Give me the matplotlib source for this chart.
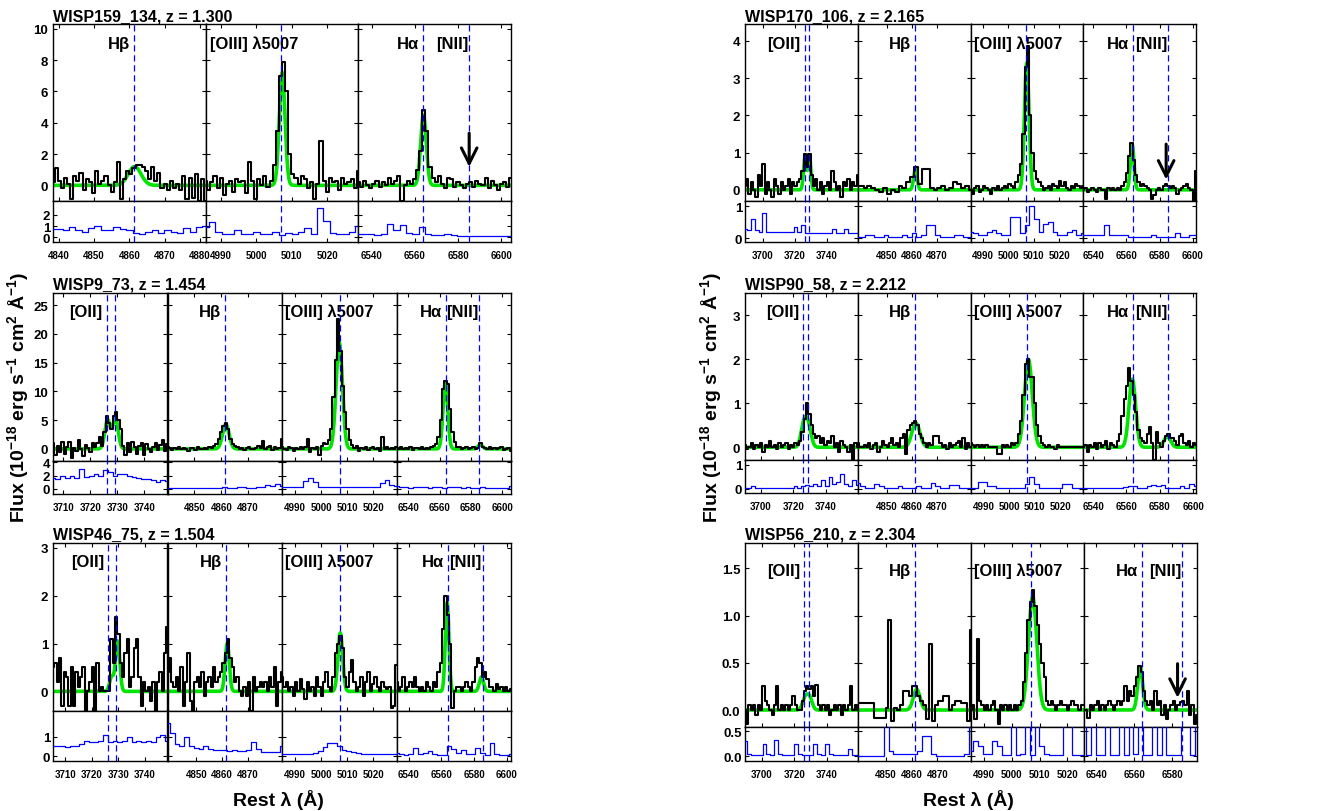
import numpy as np
import matplotlib
matplotlib.use('Agg')
import matplotlib.pyplot as plt
from matplotlib.ticker import FormatStrFormatter

plt.rcParams['font.family'] = ['Liberation Sans', 'DejaVu Sans']
plt.rcParams['font.weight'] = 'bold'
plt.rcParams['mathtext.fontset'] = 'custom'
plt.rcParams['mathtext.rm'] = 'Liberation Sans:bold'
plt.rcParams['mathtext.default'] = 'rm'

# ---------------- data ----------------
TITLES = ['WISP159_134, z = 1.300', 'WISP170_106, z = 2.165', 'WISP9_73, z = 1.454',
          'WISP90_58, z = 2.212', 'WISP46_75, z = 1.504', 'WISP56_210, z = 2.304']

LINE_WAVES = {'OII': [3726.1, 3729.0], 'Hb': [4861.4], 'OIII': [5007.0], 'Ha': [6564.0, 6585.2]}
SEG_LABEL = {'OII': '[OII]', 'Hb': 'Hβ', 'OIII': '[OIII] λ5007', 'Ha': 'Hα'}

# spectral windows (rest Angstrom) for each panel
P1_RANGES = {'Hb': (4838.3, 4881.7), 'OIII': (4985.8, 5028.7), 'Ha': (6533.8, 6604.6)}
P2_RANGES = {'OII': (3688.8, 3759.4), 'Hb': (4838.4, 4883.6), 'OIII': (4985.3, 5029.4), 'Ha': (6534.0, 6602.0)}
P3_RANGES = {'OII': (3706.3, 3748.5), 'Hb': (4840.0, 4882.6), 'OIII': (4985.0, 5028.8), 'Ha': (6532.4, 6605.7)}
P4_RANGES = {'OII': (3690.2, 3759.8), 'Hb': (4838.4, 4883.6), 'OIII': (4984.9, 5028.9), 'Ha': (6534.0, 6601.8)}
P5_RANGES = {'OII': (3705.3, 3748.7), 'Hb': (4838.9, 4883.2), 'OIII': (4985.0, 5028.8), 'Ha': (6532.5, 6602.6)}
P6_RANGES = {'OII': (3689.7, 3759.0), 'Hb': (4839.2, 4883.1), 'OIII': (4985.3, 5026.0), 'Ha': (6533.7, 6593.0)}

# ---- panel 1: WISP159_134 ----
P1_HB_FLUX = [0.2,1.1,0.3,-0.2,0.5,0.1,-0.9,0.6,0.3,0.8,-0.3,0.4,0.2,-0.5,0.9,0.1,0.3,0.6,0.0,-0.4,
              0.2,1.5,-0.9,0.4,0.9,0.7,1.1,1.3,1.3,1.2,0.9,0.4,1.2,0.3,0.8,-0.2,0.1,-0.3,0.3,-0.2,
              0.1,-0.3,0.6,-0.9,0.5,-0.8,0.7,-1.0,0.4,-1.0]
P1_OIII_FLUX = [0.3,-0.3,0.2,0.6,-0.2,0.5,-0.6,0.1,0.3,-0.4,0.4,0.2,0.3,-0.5,1.5,0.3,-0.9,0.4,0.0,0.6,
                -0.1,0.3,1.3,3.5,7.0,7.9,6.0,2.0,0.7,0.5,0.1,0.6,0.4,-0.2,0.2,-0.9,0.1,2.8,0.3,-0.4,
                0.5,0.2,0.3,-0.3,0.5,0.1,0.2,0.4,-0.2,0.9]
P1_HA_FLUX = [0.2,-0.1,0.3,0.0,-0.2,0.1,0.3,-0.1,0.2,0.0,0.5,0.1,0.3,0.6,-1.0,0.0,0.3,0.1,0.4,1.0,
              2.2,4.8,3.5,1.2,0.5,0.2,0.6,0.1,-0.2,0.5,0.4,-0.1,0.2,0.0,-0.2,0.1,0.2,-0.1,0.3,0.1,
              0.0,0.5,-0.2,0.3,0.0,-0.3,0.1,0.2,-0.1,0.5]
P1_HB_ERR = [0.7,0.7,0.6,0.9,0.6,0.5,0.8,1.0,0.6,0.6,0.9,0.7,0.6,0.4,0.3,0.5,0.6,0.4,0.6,0.5,0.4,0.8,0.5,0.9,1.0]
P1_OIII_ERR = [0.9,1.4,0.5,0.3,0.3,0.6,0.3,0.3,0.5,0.3,0.3,0.5,0.2,0.4,0.3,0.5,0.8,0.3,2.6,1.5,0.4,0.3,0.3,0.5,1.0]
P1_HA_ERR = [0.3,0.3,0.25,0.2,0.25,1.2,0.6,1.1,0.4,0.3,0.9,0.3,0.2,0.15,0.3,0.2,0.1,0.1,0.1,0.1,0.1,0.08,0.05,0.05,0.05]
P1_FIT_CEN = [4861.5, 5007.3, 6564.0]
P1_FIT_AMP = [1.2, 7.2, 4.5]
P1_FIT_SIG = [1.8, 0.8, 1.3]

# ---- panel 2: WISP170_106 ----
P2_OII_FLUX = [0.1,0.3,-0.1,0.2,0.0,-0.2,0.4,0.1,0.7,-0.1,0.2,0.0,-0.2,0.3,0.1,-0.1,0.2,0.0,0.1,0.3,
               -0.1,0.2,0.1,0.2,0.3,0.5,0.95,0.6,0.97,0.4,0.1,0.3,0.0,0.2,-0.1,0.1,0.2,0.0,0.5,0.2,
               0.0,0.1,-0.2,0.2,0.1,0.3,0.0,0.2,0.1,0.4]
P2_HB_FLUX = [0.1,0.1,0.05,0.1,0.05,0.0,-0.05,0.05,-0.1,0.0,-0.05,0.1,0.05,0.2,0.35,0.6,0.15,0.55,0.55,0.05,
              0.0,0.05,0.1,0.0,0.05,0.2,0.15,0.05,0.1,0.0]
P2_OIII_FLUX = [0.0,-0.1,0.05,0.1,-0.05,0.0,0.1,0.05,0.0,-0.1,0.05,0.0,0.1,0.0,0.05,0.1,0.05,0.15,0.1,0.05,
                0.2,0.4,0.7,1.5,3.3,3.85,2.0,1.0,0.5,0.3,0.2,0.1,0.0,0.05,0.1,0.0,0.15,0.1,0.05,0.25,
                0.1,0.2,0.05,0.0,0.1,0.05,0.15,0.1,0.05,0.1]
P2_HA_FLUX = [0.0,0.05,-0.05,0.0,0.05,0.0,-0.05,0.05,0.0,0.0,-0.25,0.05,0.0,0.05,0.0,0.05,0.0,0.1,0.2,0.45,
              0.9,1.25,0.8,0.4,0.2,0.1,0.15,0.1,0.05,0.0,-0.25,-0.15,0.0,0.05,0.0,0.1,0.15,0.1,0.05,0.1,
              0.05,-0.1,0.0,0.05,0.1,0.15,0.05,0.0,-0.3,0.5]
P2_OII_ERR = [0.3,0.25,0.6,0.25,0.2,0.8,0.2,0.2,0.2,0.2,0.2,0.2,0.2,0.35,0.2,0.4,0.15,0.15,0.15,0.15,
              0.15,0.15,0.15,0.3,0.15,0.15,0.3,0.15,0.15,0.15]
P2_HB_ERR = [0.05,0.05,0.1,0.1,0.05,0.05,0.1,0.05,0.05,0.05,0.1,0.05,0.15,0.05,0.1,0.4,0.4,0.1,0.05,0.05,0.05,0.1,0.1,0.05,0.05]
P2_OIII_ERR = [0.2,0.15,0.1,0.1,0.2,0.25,0.15,0.1,0.1,0.65,0.65,0.15,0.4,1.0,0.6,0.2,0.45,0.5,0.2,0.1,0.1,0.2,0.25,0.1,0.15]
P2_HA_ERR = [0.1,0.1,0.1,0.1,0.1,0.4,0.1,0.1,0.1,0.1,0.05,0.05,0.05,0.05,0.05,0.1,0.05,0.05,0.05,0.05,0.15,0.05,0.05,0.1,0.1]
P2_FIT_CEN = [3726.3, 3729.1, 4861.5, 5007.3, 6563.5]
P2_FIT_AMP = [0.85, 0.9, 0.55, 3.4, 1.2]
P2_FIT_SIG = [0.9, 0.9, 0.7, 0.9, 1.1]

# ---- panel 3: WISP9_73 ----
P3_OII_FLUX = [1.0,-1.0,0.5,-0.5,1.2,-0.8,0.3,1.2,-1.5,0.2,-0.3,1.5,0.0,-1.2,0.6,0.2,-0.5,1.1,0.3,1.0,
               2.0,0.5,3.0,5.8,4.5,3.5,5.8,6.5,5.0,3.5,0.5,-1.0,1.0,-0.5,1.2,0.3,-0.8,0.5,1.0,-1.0,
               0.8,0.0,-0.5,0.3,1.0,-0.2,0.6,1.5,-0.3,0.8]
P3_HB_FLUX = [0.3,0.1,-0.2,0.2,0.0,0.3,-0.1,0.2,0.0,-0.3,0.1,0.2,-0.2,0.3,0.0,-0.1,0.2,0.0,0.3,0.1,
              0.5,0.9,1.7,3.0,4.0,4.5,3.5,1.7,0.8,0.5,0.3,0.0,0.2,-0.2,0.1,0.3,0.0,-0.1,0.2,0.5,
              0.1,1.3,0.0,0.3,0.5,-0.2,0.3,0.0,0.1,1.8]
P3_OIII_FLUX = [0.3,0.0,-0.2,0.3,0.1,-0.3,0.2,0.0,0.4,0.0,0.3,1.8,-0.5,0.2,0.0,0.3,-1.0,0.5,1.0,0.8,
                1.5,3.5,9.0,15.5,22.5,17.0,11.0,6.5,3.5,1.5,0.7,0.2,0.5,-0.3,0.2,0.0,0.3,-0.2,0.1,0.4,
                0.0,0.2,-0.3,2.0,0.0,0.3,-0.1,0.2,0.0,0.3]
P3_HA_FLUX = [0.2,0.0,0.3,-0.1,0.2,0.0,0.3,-0.2,0.1,0.2,0.0,0.3,-0.1,0.2,0.0,0.3,0.5,0.8,2.0,5.0,
              10.5,11.8,11.3,7.0,3.0,1.2,0.4,0.3,0.0,0.2,0.3,-0.1,0.1,0.3,0.0,0.2,1.0,0.4,0.1,0.0,
              0.3,-0.1,0.2,0.0,0.1,0.3,-0.2,0.0,0.2,-0.3]
P3_OII_ERR = [1.7,1.5,2.0,1.6,2.0,1.7,3.0,1.8,2.0,2.3,2.0,2.8,2.5,1.9,2.3,2.2,1.9,1.8,1.6,1.5,1.5,1.3,1.1,1.3,1.2]
P3_HB_ERR = [0.2,0.2,0.2,0.2,0.2,0.2,0.2,0.2,0.2,0.2,0.2,0.2,0.25,0.2,0.2,0.25,0.3,0.2,0.2,0.3,0.25,0.6,0.5,0.8,0.5]
P3_OIII_ERR = [0.3,0.3,0.3,0.3,0.3,1.2,1.7,1.0,0.3,0.3,0.3,0.3,0.3,0.3,0.3,0.3,0.3,0.3,0.3,0.3,0.35,0.9,1.3,0.6,0.4]
P3_HA_ERR = [0.4,0.3,0.35,0.2,0.3,0.25,0.3,0.2,0.3,0.25,0.2,0.3,0.25,0.35,0.2,0.3,0.2,0.2,0.3,0.2,0.2,0.2,0.2,0.2,0.5]
P3_FIT_CEN = [3726.4, 3729.3, 4861.7, 5006.9, 6563.7, 6586.0]
P3_FIT_AMP = [5.0, 5.3, 4.3, 18.5, 11.5, 0.7]
P3_FIT_SIG = [1.0, 1.0, 1.2, 1.2, 1.5, 1.5]

# ---- panel 4: WISP90_58 ----
P4_OII_FLUX = [0.05,-0.05,0.0,0.1,-0.05,0.05,0.0,0.1,-0.1,0.05,0.0,0.15,0.0,0.05,-0.05,0.1,0.0,0.05,0.1,-0.05,
               0.05,0.0,0.1,0.05,0.15,0.35,0.65,1.0,0.75,0.5,0.3,0.2,0.25,0.1,0.2,0.05,0.15,0.1,0.25,0.0,
               0.1,-0.1,0.15,0.05,0.0,-0.1,0.05,-0.3,0.1,0.0]
P4_HB_FLUX = [0.1,0.0,0.0,0.05,0.0,0.1,-0.05,0.05,0.1,-0.1,0.0,0.15,0.05,0.0,0.1,0.2,0.05,0.1,0.0,0.2,
              0.3,-0.15,0.4,0.5,0.55,0.6,0.5,0.3,0.2,0.1,0.0,0.1,0.05,0.25,0.25,0.25,0.1,0.0,0.05,-0.05,
              0.1,0.0,0.05,0.1,0.15,0.0,0.2,-0.05,0.1,0.0]
P4_OIII_FLUX = [0.1,0.05,0.0,0.05,0.0,0.05,0.0,0.05,0.0,0.0,0.0,0.0,-0.15,-0.15,0.05,0.0,0.05,0.0,0.1,0.05,
                0.1,0.3,0.6,1.2,1.9,2.0,1.6,1.6,1.0,0.5,0.25,0.1,0.05,0.0,0.05,0.0,0.0,-0.05,0.05,0.0,
                0.0,0.0,0.0,0.0,0.0,0.0,0.0,0.0,0.0,0.0]
P4_HA_FLUX = [0.0,0.05,-0.1,0.05,0.0,0.1,-0.05,0.1,0.0,0.05,0.15,-0.05,0.1,0.05,0.0,0.15,0.3,0.7,1.1,1.4,
              1.8,1.5,1.2,0.8,0.4,0.2,0.15,0.1,0.3,0.45,0.1,-0.3,0.35,0.1,0.0,0.15,0.25,0.3,0.2,0.2,
              0.15,0.05,0.25,0.3,0.1,0.05,0.15,0.0,0.1,0.05]
P4_OII_ERR = [0.05,0.05,0.1,0.05,0.05,0.05,0.05,0.05,0.05,0.05,0.05,0.05,0.05,0.1,0.05,0.1,0.15,0.1,0.2,0.1,
              0.35,0.1,0.5,0.2,0.3,0.6,0.2,0.1,0.35,0.15]
P4_HB_ERR = [0.25,0.1,0.05,0.05,0.2,0.1,0.05,0.05,0.05,0.1,0.05,0.05,0.05,0.1,0.05,0.05,0.25,0.1,0.05,0.05,0.15,0.15,0.05,0.05,0.05]
P4_OIII_ERR = [0.05,0.05,0.3,0.3,0.1,0.1,0.05,0.05,0.05,0.05,0.05,0.05,0.2,0.5,0.2,0.05,0.05,0.05,0.05,0.05,0.2,0.2,0.05,0.05,0.05]
P4_HA_ERR = [0.05,0.05,0.05,0.05,0.05,0.05,0.05,0.05,0.05,0.08,0.1,0.1,0.05,0.05,0.1,0.15,0.1,0.15,0.05,0.05,0.05,0.1,0.05,0.2,0.1]
P4_FIT_CEN = [3726.5, 3729.3, 4861.7, 5007.5, 6563.5, 6584.5]
P4_FIT_AMP = [0.5, 0.45, 0.55, 2.0, 1.55, 0.25]
P4_FIT_SIG = [1.8, 1.8, 1.6, 1.5, 2.0, 2.0]

# ---- panel 5: WISP46_75 ----
P5_OII_FLUX = [0.5,0.6,0.2,0.7,-0.3,0.4,0.3,-0.3,0.5,-0.3,0.4,0.1,0.3,0.5,-0.4,0.0,0.2,0.5,-0.4,0.6,
               0.0,0.1,0.0,0.0,0.0,1.1,0.6,1.55,1.2,0.6,0.3,0.8,1.1,0.1,0.3,0.9,1.1,0.3,-0.3,0.2,
               0.0,0.1,-0.2,0.2,-0.4,0.2,0.4,0.0,0.8,1.35]
P5_HB_FLUX = [0.4,0.7,0.2,0.1,0.3,0.0,0.5,-0.3,0.2,0.8,-0.2,-0.4,0.2,0.3,0.1,0.4,-0.1,0.2,0.3,0.1,
              0.5,0.2,0.3,0.4,0.6,0.8,1.1,0.7,0.5,0.2,0.3,0.0,-0.1,0.1,-0.1,0.2,-0.4,0.3,0.0,0.1,
              0.2,0.1,0.2,0.0,0.3,0.1,0.5,-0.3,0.2,0.4]
P5_OIII_FLUX = [0.3,0.1,0.2,0.0,0.1,-0.1,0.2,0.0,0.25,0.05,-0.15,0.2,0.0,0.1,-0.1,0.3,0.1,-0.1,0.2,0.4,
                0.1,0.0,0.3,0.8,1.0,1.15,0.9,0.3,0.1,0.4,0.65,0.2,0.0,0.1,0.3,-0.1,0.2,0.4,0.0,0.15,
                0.3,0.1,0.0,0.2,0.1,0.05,0.1,-0.35,-0.3,0.55]
P5_HA_FLUX = [0.2,0.0,0.1,0.3,0.0,0.1,0.2,0.1,0.3,0.1,0.0,0.1,0.0,0.2,0.1,0.0,0.2,0.1,0.4,0.6,
              1.3,2.0,1.6,1.0,-0.35,0.0,0.1,0.1,0.0,0.1,0.2,0.1,0.0,0.2,0.5,0.7,0.6,0.3,0.4,0.25,
              0.1,0.1,0.0,0.15,0.05,0.1,0.0,0.1,0.0,0.05]
P5_OII_ERR = [0.5,0.5,0.5,0.45,0.5,0.5,0.6,0.8,0.75,0.7,0.8,1.1,0.7,0.8,0.7,0.8,1.0,0.7,0.8,0.7,0.8,0.7,1.0,1.1,0.8]
P5_HB_ERR = [1.7,1.2,0.6,0.5,1.0,0.5,0.4,0.35,0.5,0.35,0.3,0.3,0.3,0.25,0.3,0.25,0.25,0.3,0.7,0.35,0.2,0.2,0.2,0.2,0.5]
P5_OIII_ERR = [0.1,0.1,0.1,0.1,0.1,0.1,0.1,0.15,0.25,0.45,0.65,0.65,0.5,0.3,0.25,0.2,0.15,0.1,0.1,0.1,0.1,0.1,0.1,0.1,0.1]
P5_HA_ERR = [0.15,0.1,0.05,0.1,0.4,0.1,0.15,0.25,0.1,0.05,0.05,0.5,0.35,0.15,0.3,0.1,0.1,0.4,0.15,0.05,0.65,0.1,0.05,0.05,0.1]
P5_FIT_CEN = [3727.5, 3729.8, 4862.0, 5007.3, 6563.5, 6584.5]
P5_FIT_AMP = [0.3, 1.05, 1.0, 1.22, 1.85, 0.3]
P5_FIT_SIG = [0.8, 0.8, 0.8, 0.9, 1.1, 1.3]

# ---- panel 6: WISP56_210 ----
P6_OII_FLUX = [0.0,-0.15,0.05,0.0,0.05,-0.05,0.05,0.0,0.25,0.1,0.05,0.0,-0.05,0.05,0.25,0.0,0.05,0.0,0.05,0.0,
               0.05,0.15,0.05,0.0,0.0,0.1,0.2,0.25,0.22,0.25,0.15,0.27,0.05,0.0,0.05,0.0,0.05,-0.05,0.0,0.05,
               0.0,0.05,-0.05,0.05,0.0,0.05,0.25,0.0,0.05,0.0]
P6_HB_FLUX = [0.07,0.07,0.07,0.07,0.07,0.07,-0.08,-0.08,-0.08,-0.08,0.02,0.95,-0.12,0.02,0.0,0.05,0.2,0.2,0.15,0.25,
              0.25,0.15,0.1,0.05,-0.1,0.7,-0.12,0.05,0.1,0.1,0.15,0.15,0.0,0.05,0.1,0.1,0.07,0.07,-0.12,0.85]
P6_OIII_FLUX = [0.0,0.05,-0.1,0.75,0.1,0.05,0.0,0.05,0.0,0.05,0.1,0.0,-0.15,0.05,0.0,0.05,0.0,0.05,0.0,0.05,
                0.0,0.05,0.1,0.3,0.6,0.95,1.15,1.27,1.1,0.9,0.7,0.5,0.35,0.1,0.05,0.1,0.05,0.0,0.05,0.1,
                0.05,0.05,0.0,0.05,0.1,0.05,0.05,0.0,0.05,0.05]
P6_HA_FLUX = [0.0,0.0,-0.08,0.05,0.0,0.05,0.1,0.0,0.05,0.0,0.05,0.1,0.05,0.0,0.05,0.1,0.05,0.1,0.25,0.1,
              0.2,0.15,0.25,0.35,0.47,0.4,0.2,0.1,0.05,0.1,0.0,0.2,0.05,0.1,-0.05,0.05,-0.1,0.0,0.05,0.1,
              0.0,0.05,0.08,0.1,0.05,0.2,-0.05,0.05,-0.15,-0.05]
P6_OII_ERR = [0.3,0.05,0.02,0.02,0.02,0.25,0.05,0.02,0.33,0.05,0.02,0.02,0.02,0.25,0.05,0.02,0.02,0.02,0.25,0.05,
              0.02,0.25,0.05,0.02,0.02,0.02,0.02,0.15,0.02,0.02]
P6_HB_ERR = [0.0,0.0,0.0,0.0,0.0,0.0,0.7,0.1,0.05,0.05,0.05,0.05,0.05,0.1,0.4,0.4,0.05,0.0,0.0,0.0,0.0,0.0,0.0,0.05,0.7]
P6_OIII_ERR = [0.1,0.3,0.2,0.05,0.05,0.3,0.2,0.02,0.02,0.7,0.02,0.05,0.7,0.02,0.7,0.2,0.05,0.02,0.02,0.02,0.7,0.7,0.02,0.02,0.02]
P6_HA_ERR = [0.7,0.02,0.7,0.02,0.02,0.7,0.02,0.02,0.7,0.02,0.7,0.05,0.7,0.02,0.02,0.7,0.02,0.7,0.02,0.02,0.02,0.7,0.7,0.02,0.7]
P6_FIT_CEN = [3726.5, 3729.3, 4862.0, 5007.5, 6563.2]
P6_FIT_AMP = [0.12, 0.13, 0.22, 1.2, 0.45]
P6_FIT_SIG = [1.6, 1.6, 1.3, 1.5, 1.3]

# arrows ([NII] upper limits): (wavelength, tail y, tip y)
P1_ARROW = (6585.2, 3.5, 1.0)
P2_ARROW = (6584.0, 1.3, 0.2)
P6_ARROW = (6582.8, 0.52, 0.1)

# ---------------- figure ----------------
W, H = 1341, 812
fig = plt.figure(figsize=(W / 100, H / 100), dpi=100)


def ax_px(l, t, w, h):
    return fig.add_axes([l / W, 1 - (t + h) / H, w / W, h / H])


def model(x, cens, amps, sigs):
    y = np.zeros_like(x)
    for c, a, s in zip(cens, amps, sigs):
        y += a * np.exp(-0.5 * ((x - c) / s) ** 2)
    return y


XTICKS = {
    'OII_a': [3700, 3720, 3740], 'OII_b': [3710, 3720, 3730, 3740],
    'Hb_a': [4840, 4850, 4860, 4870, 4880], 'Hb_b': [4850, 4860, 4870],
    'OIII': [4990, 5000, 5010, 5020],
    'Ha_a': [6540, 6560, 6580, 6600], 'Ha_b': [6540, 6560, 6580],
}

panels = [
    dict(title=TITLES[0], box=(53, 511, 25, 202, 243), segs=['Hb', 'OIII', 'Ha'], ranges=P1_RANGES,
         flux=[P1_HB_FLUX, P1_OIII_FLUX, P1_HA_FLUX], err=[P1_HB_ERR, P1_OIII_ERR, P1_HA_ERR],
         fit=(P1_FIT_CEN, P1_FIT_AMP, P1_FIT_SIG), ylim=(-1.0, 10.3), yt=[0, 2, 4, 6, 8, 10],
         eylim=(-0.45, 3.27), eyt=[0, 1, 2], fmt=None, ticks=['Hb_a', 'OIII', 'Ha_a'],
         arrow=P1_ARROW, laby=0.89),
    dict(title=TITLES[1], box=(745, 1196, 25, 202, 243), segs=['OII', 'Hb', 'OIII', 'Ha'], ranges=P2_RANGES,
         flux=[P2_OII_FLUX, P2_HB_FLUX, P2_OIII_FLUX, P2_HA_FLUX], err=[P2_OII_ERR, P2_HB_ERR, P2_OIII_ERR, P2_HA_ERR],
         fit=(P2_FIT_CEN, P2_FIT_AMP, P2_FIT_SIG), ylim=(-0.3, 4.45), yt=[0, 1, 2, 3, 4],
         eylim=(-0.12, 1.16), eyt=[0, 1], fmt=None, ticks=['OII_a', 'Hb_b', 'OIII', 'Ha_a'],
         arrow=P2_ARROW, laby=0.89),
    dict(title=TITLES[2], box=(53, 511, 294, 462, 495), segs=['OII', 'Hb', 'OIII', 'Ha'], ranges=P3_RANGES,
         flux=[P3_OII_FLUX, P3_HB_FLUX, P3_OIII_FLUX, P3_HA_FLUX], err=[P3_OII_ERR, P3_HB_ERR, P3_OIII_ERR, P3_HA_ERR],
         fit=(P3_FIT_CEN, P3_FIT_AMP, P3_FIT_SIG), ylim=(-2.1, 27.1), yt=[0, 5, 10, 15, 20, 25],
         eylim=(-0.75, 4.2), eyt=[0, 2, 4], fmt=None, ticks=['OII_b', 'Hb_b', 'OIII', 'Ha_a'],
         arrow=None, laby=0.89),
    dict(title=TITLES[3], box=(745, 1196, 294, 461, 494), segs=['OII', 'Hb', 'OIII', 'Ha'], ranges=P4_RANGES,
         flux=[P4_OII_FLUX, P4_HB_FLUX, P4_OIII_FLUX, P4_HA_FLUX], err=[P4_OII_ERR, P4_HB_ERR, P4_OIII_ERR, P4_HA_ERR],
         fit=(P4_FIT_CEN, P4_FIT_AMP, P4_FIT_SIG), ylim=(-0.29, 3.51), yt=[0, 1, 2, 3],
         eylim=(-0.17, 1.2), eyt=[0, 1], fmt=None, ticks=['OII_a', 'Hb_b', 'OIII', 'Ha_a'],
         arrow=None, laby=0.89),
    dict(title=TITLES[4], box=(53, 511, 544, 712, 762), segs=['OII', 'Hb', 'OIII', 'Ha'], ranges=P5_RANGES,
         flux=[P5_OII_FLUX, P5_HB_FLUX, P5_OIII_FLUX, P5_HA_FLUX], err=[P5_OII_ERR, P5_HB_ERR, P5_OIII_ERR, P5_HA_ERR],
         fit=(P5_FIT_CEN, P5_FIT_AMP, P5_FIT_SIG), ylim=(-0.41, 3.1), yt=[0, 1, 2, 3],
         eylim=(-0.24, 2.3), eyt=[0, 1], fmt=None, ticks=['OII_b', 'Hb_b', 'OIII', 'Ha_a'],
         arrow=None, laby=0.89),
    dict(title=TITLES[5], box=(745, 1197, 544, 728, 762), segs=['OII', 'Hb', 'OIII', 'Ha'], ranges=P6_RANGES,
         flux=[P6_OII_FLUX, P6_HB_FLUX, P6_OIII_FLUX, P6_HA_FLUX], err=[P6_OII_ERR, P6_HB_ERR, P6_OIII_ERR, P6_HA_ERR],
         fit=(P6_FIT_CEN, P6_FIT_AMP, P6_FIT_SIG), ylim=(-0.18, 1.77), yt=[0.0, 0.5, 1.0, 1.5],
         eylim=(-0.09, 0.58), eyt=[0.0, 0.5], fmt='%.1f', ticks=['OII_a', 'Hb_b', 'OIII', 'Ha_b'],
         arrow=P6_ARROW, laby=0.85),
]

GREEN = '#00e400'
BLUE = '#0000ff'
DASH = (0, (5, 3))
LABFS = 12

for p in panels:
    left, right, top, mb, eb = p['box']
    nseg = len(p['segs'])
    segw = (right - left) / nseg
    fig.text(left / W, 1 - (top - 4) / H, p['title'], ha='left', va='baseline',
             fontsize=11.5, fontweight='bold')
    for i, seg in enumerate(p['segs']):
        x0 = left + i * segw
        ax = ax_px(x0, top, segw, mb - top)
        axe = ax_px(x0, mb, segw, eb - mb)
        lo, hi = p['ranges'][seg]
        flux = np.array(p['flux'][i])
        err = np.array(p['err'][i])
        xs = np.linspace(lo, hi, len(flux))
        xe = np.linspace(lo, hi, len(err))
        xf = np.linspace(lo, hi, 800)
        ax.plot(xf, model(xf, *p['fit']), color=GREEN, lw=2.6, zorder=2)
        ax.plot(xs, flux, drawstyle='steps-mid', color='black', lw=1.5, zorder=3)
        axe.plot(xe, err, drawstyle='steps-mid', color=BLUE, lw=0.9, zorder=3)
        for lw_ in LINE_WAVES[seg]:
            ax.axvline(lw_, color=BLUE, ls=DASH, lw=0.9, zorder=4)
            axe.axvline(lw_, color=BLUE, ls=DASH, lw=0.9, zorder=4)
        for a in (ax, axe):
            a.set_xlim(lo, hi)
            for s in a.spines.values():
                s.set_linewidth(1.0)
        ax.set_ylim(*p['ylim'])
        axe.set_ylim(*p['eylim'])
        ax.set_yticks(p['yt'])
        axe.set_yticks(p['eyt'])
        ticks = XTICKS[p['ticks'][i]]
        ax.set_xticks(ticks)
        axe.set_xticks(ticks)
        ax.tick_params(direction='in', top=True, right=True, length=3, width=0.8,
                       labelbottom=False, labelleft=(i == 0), labelsize=9.5)
        axe.tick_params(direction='in', top=False, right=True, length=3, width=0.8,
                        labelleft=(i == 0), labelsize=9.5, pad=2)
        axe.tick_params(axis='x', labelsize=7, pad=6)
        if p['fmt']:
            ax.yaxis.set_major_formatter(FormatStrFormatter(p['fmt']))
            axe.yaxis.set_major_formatter(FormatStrFormatter(p['fmt']))
        for lab in ax.get_yticklabels() + axe.get_yticklabels() + axe.get_xticklabels():
            lab.set_fontweight('bold')
        # line labels
        if seg == 'OIII':
            ax.text(0.03, p['laby'], SEG_LABEL[seg], transform=ax.transAxes, ha='left', va='center',
                    fontsize=LABFS, fontweight='bold')
        else:
            ax.annotate(SEG_LABEL[seg], xy=(LINE_WAVES[seg][0], p['laby']),
                        xycoords=('data', 'axes fraction'), xytext=(-4, 0), textcoords='offset pixels',
                        ha='right', va='center', fontsize=LABFS, fontweight='bold')
        if seg == 'Ha':
            ax.annotate('[NII]', xy=(LINE_WAVES[seg][1], p['laby']),
                        xycoords=('data', 'axes fraction'), xytext=(-1, 0), textcoords='offset pixels',
                        ha='right', va='center', fontsize=LABFS, fontweight='bold')
            if p['arrow'] is not None:
                xa, ytail, ytip = p['arrow']
                ax.annotate('', xy=(xa, ytip), xytext=(xa, ytail),
                            arrowprops=dict(arrowstyle='->', lw=2.2, color='black', mutation_scale=28),
                            zorder=5)

ylab = 'Flux (10$^{-18}$ erg s$^{-1}$ cm$^{2}$ Å$^{-1}$)'
fig.text(18 / W, 1 - 398 / H, ylab, rotation=90, ha='center', va='center', fontsize=14, fontweight='bold')
fig.text(711 / W, 1 - 398 / H, ylab, rotation=90, ha='center', va='center', fontsize=14, fontweight='bold')
fig.text(278 / W, 1 - 800 / H, 'Rest λ (Å)', ha='center', va='center', fontsize=14, fontweight='bold')
fig.text(968 / W, 1 - 800 / H, 'Rest λ (Å)', ha='center', va='center', fontsize=14, fontweight='bold')

fig.savefig('out.png', dpi=100)
